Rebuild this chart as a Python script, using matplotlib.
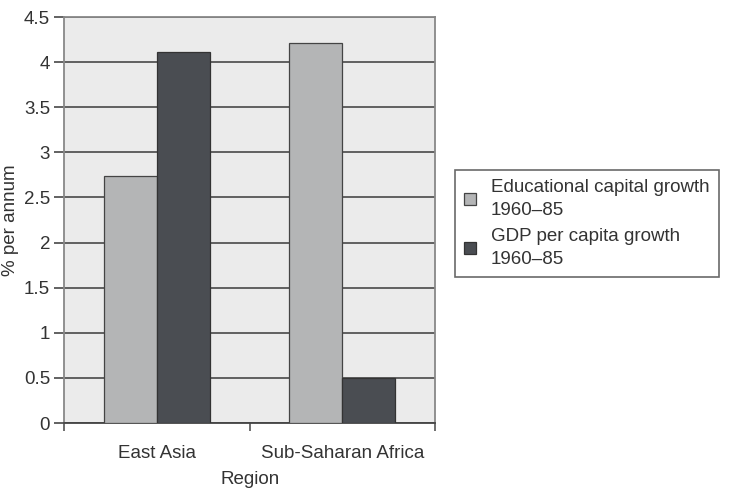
import matplotlib
matplotlib.use("Agg")
import matplotlib.pyplot as plt
import numpy as np

# Data
regions = ["East Asia", "Sub-Saharan Africa"]
edu_growth = [2.74, 4.21]
gdp_growth = [4.11, 0.5]
series_labels = ["Educational capital growth\n1960\u201385", "GDP per capita growth\n1960\u201385"]

LIGHT = "#b4b5b6"
DARK = "#4a4d52"
BG = "#ebebeb"
GRID = "#555555"
TXT = "#333333"
FS = 13.5

plt.rcParams["font.family"] = ["Liberation Sans", "DejaVu Sans"]

fig = plt.figure(figsize=(7.32, 4.90), dpi=100)
ax = fig.add_axes([0.0874, 0.1367, 0.507, 0.8286])
ax.set_facecolor(BG)

x = np.arange(len(regions))
w = 0.286
ax.bar(x - w / 2, edu_growth, w, color=LIGHT, edgecolor="#444444", linewidth=0.9,
       label=series_labels[0], zorder=3)
ax.bar(x + w / 2, gdp_growth, w, color=DARK, edgecolor="#333333", linewidth=0.9,
       label=series_labels[1], zorder=3)

ax.set_xlim(-0.5, 1.5)
ax.set_ylim(0, 4.5)
ax.set_yticks(np.arange(0, 4.51, 0.5))
ax.set_yticklabels(["0", "0.5", "1", "1.5", "2", "2.5", "3", "3.5", "4", "4.5"])
ax.yaxis.grid(True, color=GRID, linewidth=1.3, zorder=1)

ax.set_xticks(x)
ax.set_xticklabels(regions)
ax.tick_params(axis="x", length=0, pad=16, labelsize=FS, colors=TXT)
ax.set_xticks([-0.5, 0.5, 1.5], minor=True)
ax.tick_params(axis="x", which="minor", length=6, width=1.2, color="#555555")
ax.tick_params(axis="y", length=7, width=1.3, color="#555555", labelsize=FS,
               labelcolor=TXT, pad=3)

for s in ["left", "right", "top"]:
    ax.spines[s].set_color("#888888")
    ax.spines[s].set_linewidth(1.3)
ax.spines["bottom"].set_color("#444444")
ax.spines["bottom"].set_linewidth(1.3)

# axis titles placed in figure pixels (the reference crops them at the edge)
fig.text(11 / 732, 1 - 220 / 490, "% per annum", rotation=90, ha="center",
         va="center", fontsize=FS, color=TXT)
fig.text(250 / 732, 2 / 490, "Region", ha="center", va="bottom",
         fontsize=FS, color=TXT)

leg = fig.legend(loc="center left", bbox_to_anchor=(455 / 732, 1 - 223.5 / 490),
                 borderaxespad=0, fontsize=FS, frameon=True, fancybox=False,
                 shadow=False, handlelength=0.6, handleheight=0.6,
                 handletextpad=0.8, labelspacing=0.5, borderpad=0.5)
leg.get_frame().set_edgecolor("#444444")
leg.get_frame().set_linewidth(1.2)
for t in leg.get_texts():
    t.set_color(TXT)
    t.set_linespacing(1.45)

fig.savefig("out.png", dpi=100, facecolor="white")
